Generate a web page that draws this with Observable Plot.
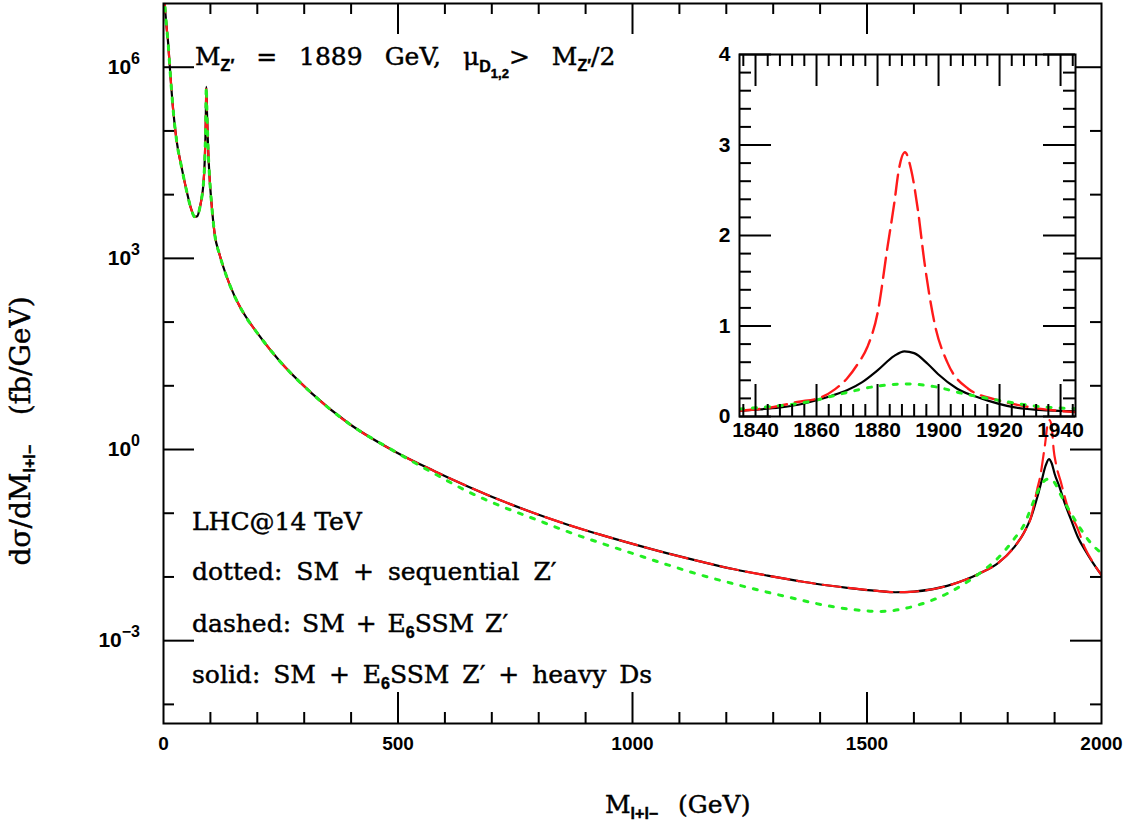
<!DOCTYPE html>
<html><head><meta charset="utf-8">
<script src="https://cdn.jsdelivr.net/npm/d3@7"></script>
<script src="https://cdn.jsdelivr.net/npm/@observablehq/plot@0.6"></script>
<style>
body{margin:0;background:#fff;}
#wrap{position:relative;width:1126px;height:830px;overflow:hidden;}
#wrap svg{position:absolute;left:0;top:0;}
</style></head><body><div id="wrap"></div>
<script>
// ---------- data ----------
// shared low-mass part (all three curves coincide)
const lowMass = [2, 2.8, 6, 10, 13.5, 20.6, 27.7, 38.3, 49, 59.6, 66.7, 72, 77.3, 81, 84.5, 88, 90, 91.2, 92.5, 95, 98, 102, 109, 120, 131, 152, 163, 209, 244, 315, 393, 493];
const lowXsec = [1.4e7, 1.0e7, 4.8e6, 2.34e6, 1.0e6, 2.14e5, 7.24e4, 2.75e4, 1.17e4, 5.75e3, 4.47e3, 4.57e3, 6.17e3, 8.5e3, 1.32e4, 3.55e4, 1.26e5, 4.9e5, 2.24e5, 5.6e4, 2.0e4, 7.9e3, 2.45e3, 1.12e3, 617, 251, 174, 55, 26.3, 7.76, 2.63, 0.933];
// E6SSM continuum (solid and dashed coincide)
const e6Mass = [578, 649, 720, 791, 862, 933, 1004, 1075, 1146, 1217, 1288, 1352, 1387, 1458, 1522, 1560, 1600, 1671, 1742, 1780, 1813, 1835, 1849];
const e6Xsec = [0.457, 0.263, 0.158, 0.10, 0.0661, 0.0457, 0.0324, 0.0234, 0.0174, 0.0132, 0.0105, 0.0087, 0.0079, 0.00676, 0.00603, 0.00575, 0.00589, 0.00724, 0.0115, 0.0166, 0.0288, 0.050, 0.083];
// solid: SM + E6SSM Z' + heavy Ds, resonance region
const solidPeakMass = [1863, 1872, 1881, 1888, 1894, 1900, 1910, 1922, 1935, 1950, 1965, 1980, 2000];
const solidPeakXsec = [0.178, 0.316, 0.562, 0.708, 0.603, 0.417, 0.263, 0.141, 0.0794, 0.0417, 0.0263, 0.0174, 0.0107];
// dashed: SM + E6SSM Z', resonance region
const dashedPeakMass = [1863, 1870, 1876, 1880, 1884, 1889, 1894, 1898, 1903, 1913, 1930, 1948, 1965, 1980, 2000];
const dashedPeakXsec = [0.24, 0.40, 0.79, 1.26, 2.24, 2.9, 2.24, 1.0, 0.59, 0.316, 0.112, 0.060, 0.0282, 0.0178, 0.0107];
// dotted: SM + sequential Z'
const seqMass = [578, 649, 720, 791, 862, 933, 1004, 1075, 1146, 1217, 1288, 1352, 1387, 1458, 1529, 1600, 1671, 1742, 1780, 1813, 1835, 1856, 1870, 1880, 1889, 1898, 1915, 1934, 1955, 1972, 2000];
const seqXsec = [0.417, 0.219, 0.129, 0.0813, 0.0513, 0.0339, 0.0229, 0.0155, 0.0107, 0.00776, 0.00575, 0.00447, 0.00389, 0.00316, 0.00288, 0.00347, 0.0055, 0.0117, 0.020, 0.0389, 0.066, 0.158, 0.269, 0.331, 0.347, 0.316, 0.182, 0.102, 0.0575, 0.038, 0.0234];

// inset (linear scale)
const insetSolidMass = [1834.75, 1840, 1848, 1854, 1860, 1865, 1870, 1875, 1880, 1885.5, 1888.8, 1892, 1896.5, 1899.8, 1906, 1914, 1925, 1936, 1944.9];
const insetSolidXsec = [0.062, 0.075, 0.10, 0.13, 0.18, 0.23, 0.29, 0.38, 0.51, 0.67, 0.72, 0.70, 0.58, 0.47, 0.31, 0.20, 0.10, 0.067, 0.056];
const insetDashedMass = [1834.75, 1845, 1853.7, 1861.4, 1866, 1870, 1873.5, 1876.7, 1880, 1883.3, 1885.5, 1887, 1889, 1891, 1893.2, 1895.4, 1898.7, 1903, 1909.6, 1919.5, 1930.5, 1944.9];
const insetDashedXsec = [0.062, 0.10, 0.16, 0.21, 0.30, 0.42, 0.58, 0.77, 1.14, 1.88, 2.36, 2.73, 2.92, 2.73, 2.29, 1.70, 1.03, 0.59, 0.31, 0.18, 0.10, 0.048];
const insetDottedMass = [1834.75, 1845, 1857, 1868, 1879, 1889, 1898.7, 1908.5, 1919.5, 1930.5, 1944.9];
const insetDottedXsec = [0.083, 0.11, 0.16, 0.25, 0.33, 0.36, 0.33, 0.25, 0.18, 0.12, 0.086];

// ticks
const mainXLabels = [0, 500, 1000, 1500, 2000];
const mainXMajor = [500, 1000, 1500];
const mainXMinor = [100, 200, 300, 400, 600, 700, 800, 900, 1100, 1200, 1300, 1400, 1600, 1700, 1800, 1900];
const mainYMajorExp = [6, 3, 0, -3];
const mainYMinorExp = [5, 4, 2, 1, -1, -2, -4];
const insetXMajor = [1840, 1860, 1880, 1900, 1920, 1940];
const insetXMinor = d3.range(1836, 1945, 4).filter(v => (v - 1840) % 20 !== 0);
const insetYMajor = [0, 1, 2, 3, 4];
const insetYMinor = d3.range(0.2, 4, 0.2).filter(v => Math.abs(v - Math.round(v)) > 1e-6);

// ---------- layout ----------
const W = 1126, H = 830;
const mainM = {left: 163, right: 25, top: 3, bottom: 107};
const mainFH = H - mainM.top - mainM.bottom, mainFW = W - mainM.left - mainM.right;
const insM = {left: 739, right: 51, top: 54, bottom: 414};
const insFH = H - insM.top - insM.bottom, insFW = W - insM.left - insM.right;
const MAJ = 31, MIN = 11, IMAJ = 32, IMIN = 12;

const RED = "#ff1a1a", GREEN = "#22ee22";
const serif = "'DejaVu Serif', serif";
const sans = "'Liberation Sans', Arial, sans-serif";

const zip = (xs, ys) => xs.map((m, i) => ({m, v: ys[i]}));
const solidData = [...zip(lowMass, lowXsec), ...zip(e6Mass, e6Xsec), ...zip(solidPeakMass, solidPeakXsec)];
const dashedData = [...zip(lowMass, lowXsec), ...zip(e6Mass, e6Xsec), ...zip(dashedPeakMass, dashedPeakXsec)];
const dottedData = [...zip(lowMass, lowXsec), ...zip(seqMass, seqXsec)];

const tickStyle = {stroke: "black", strokeWidth: 2};

const main = Plot.plot({
  width: W, height: H,
  marginLeft: mainM.left, marginRight: mainM.right, marginTop: mainM.top, marginBottom: mainM.bottom,
  style: {background: "transparent", overflow: "visible", fontFamily: sans},
  x: {domain: [0, 2000], axis: null},
  y: {type: "log", domain: [Math.pow(10, -4.3), 1e7], axis: null},
  marks: [
    Plot.line(solidData, {x: "m", y: "v", stroke: "black", strokeWidth: 2.2, curve: "monotone-x", clip: true}),
    Plot.line(dashedData, {x: "m", y: "v", stroke: RED, strokeWidth: 2.2, strokeDasharray: "18,8", curve: "monotone-x", clip: true}),
    Plot.line(dottedData, {x: "m", y: "v", stroke: GREEN, strokeWidth: 3, strokeDasharray: "4,9", curve: "monotone-x", clip: true}),
    Plot.tickX(mainXMajor, {x: d => d, insetTop: mainFH - MAJ, ...tickStyle}),
    Plot.tickX(mainXMajor, {x: d => d, insetBottom: mainFH - MAJ, ...tickStyle}),
    Plot.tickX(mainXMinor, {x: d => d, insetTop: mainFH - MIN, ...tickStyle}),
    Plot.tickX(mainXMinor, {x: d => d, insetBottom: mainFH - MIN, ...tickStyle}),
    Plot.tickY(mainYMajorExp, {y: d => Math.pow(10, d), insetRight: mainFW - MAJ, ...tickStyle}),
    Plot.tickY(mainYMajorExp, {y: d => Math.pow(10, d), insetLeft: mainFW - MAJ, ...tickStyle}),
    Plot.tickY(mainYMinorExp, {y: d => Math.pow(10, d), insetRight: mainFW - MIN, ...tickStyle}),
    Plot.tickY(mainYMinorExp, {y: d => Math.pow(10, d), insetLeft: mainFW - MIN, ...tickStyle}),
    Plot.frame({stroke: "black", strokeWidth: 2}),
    Plot.text(mainXLabels, {x: d => d, frameAnchor: "bottom", dy: 26, text: d => String(d), fontSize: 19, fontWeight: "bold", fill: "black"})
  ]
});

const inset = Plot.plot({
  width: W, height: H,
  marginLeft: insM.left, marginRight: insM.right, marginTop: insM.top, marginBottom: insM.bottom,
  style: {background: "transparent", overflow: "visible", fontFamily: sans},
  x: {domain: [1834.75, 1944.9], axis: null},
  y: {domain: [0, 4], axis: null},
  marks: [
    Plot.frame({fill: "white", stroke: "none"}),
    Plot.line(zip(insetSolidMass, insetSolidXsec), {x: "m", y: "v", stroke: "black", strokeWidth: 2.2, curve: "monotone-x", clip: true}),
    Plot.line(zip(insetDashedMass, insetDashedXsec), {x: "m", y: "v", stroke: RED, strokeWidth: 2.4, strokeDasharray: "20,8", curve: "monotone-x", clip: true}),
    Plot.line(zip(insetDottedMass, insetDottedXsec), {x: "m", y: "v", stroke: GREEN, strokeWidth: 3, strokeDasharray: "4,9", curve: "monotone-x", clip: true}),
    Plot.tickX(insetXMajor, {x: d => d, insetTop: insFH - IMAJ, ...tickStyle}),
    Plot.tickX(insetXMajor, {x: d => d, insetBottom: insFH - IMAJ, ...tickStyle}),
    Plot.tickX(insetXMinor, {x: d => d, insetTop: insFH - IMIN, ...tickStyle}),
    Plot.tickX(insetXMinor, {x: d => d, insetBottom: insFH - IMIN, ...tickStyle}),
    Plot.tickY(insetYMajor, {y: d => d, insetRight: insFW - IMAJ, ...tickStyle}),
    Plot.tickY(insetYMajor, {y: d => d, insetLeft: insFW - IMAJ, ...tickStyle}),
    Plot.tickY(insetYMinor, {y: d => d, insetRight: insFW - IMIN, ...tickStyle}),
    Plot.tickY(insetYMinor, {y: d => d, insetLeft: insFW - IMIN, ...tickStyle}),
    Plot.frame({stroke: "black", strokeWidth: 2}),
    Plot.text(insetXMajor, {x: d => d, frameAnchor: "bottom", dy: 20, text: d => String(d), fontSize: 21, fontWeight: "bold", fill: "black"}),
    Plot.text(insetYMajor, {y: d => d, frameAnchor: "left", dx: -9, textAnchor: "end", text: d => String(d), fontSize: 21, fontWeight: "bold", fill: "black"})
  ]
});

const wrap = document.getElementById("wrap");
wrap.appendChild(main);
wrap.appendChild(inset);

// ---------- rich text helpers ----------
function rich(svg, x, y, segs, {size = 25, family = serif, anchor = "start", transform = null, weight = "normal", wordSpacing = 0, thick = 0.45} = {}) {
  const t = d3.select(svg).append("text")
    .attr("font-family", family).attr("font-size", size).attr("font-weight", weight)
    .attr("text-anchor", anchor).attr("fill", "black")
    .attr("stroke", "black").attr("stroke-width", thick)
    .style("white-space", "pre").attr("word-spacing", wordSpacing);
  if (transform) t.attr("transform", transform); else t.attr("x", x).attr("y", y);
  let prev = 0;
  for (const s of segs) {
    const sh = s.shift || 0;
    const sp = t.append("tspan").attr("dy", sh - prev).text(s.t);
    if (s.size) sp.attr("font-size", s.size);
    if (s.weight) sp.attr("font-weight", s.weight);
    if (s.family) sp.attr("font-family", s.family);
    prev = sh;
  }
  return t;
}

// main y tick labels 10^n
const ys = main.scale("y");
for (const e of mainYMajorExp) {
  const py = ys.apply(Math.pow(10, e));
  rich(main, 140, py + 7, [{t: "10"}, {t: e < 0 ? "\u2212" + (-e) : String(e), size: 16, shift: -10}],
    {size: 21, family: sans, weight: "bold", anchor: "end", thick: 0});
}

const SUB = 16;
// title
rich(main, 195, 65, [
  {t: "M"}, {t: "Z\u2032", size: SUB, shift: 6, family: sans, weight: "bold"},
  {t: " = 1889 GeV, "}, {t: "\u03bc", family: serif},
  {t: "D", size: SUB, shift: 7, family: sans, weight: "bold"}, {t: "1,2", size: 13, shift: 13, family: sans, weight: "bold"},
  {t: "> M"}, {t: "Z\u2032", size: SUB, shift: 6, family: sans, weight: "bold"}, {t: "/2"}
], {wordSpacing: 14});

// legend text lines
rich(main, 192, 530, [{t: "LHC@14 TeV"}], {wordSpacing: 0});
rich(main, 192, 580, [{t: "dotted: SM + sequential Z\u2032"}], {wordSpacing: 6});
rich(main, 192, 632, [{t: "dashed: SM + E"}, {t: "6", size: SUB, shift: 6, family: sans, weight: "bold"}, {t: "SSM Z\u2032"}], {wordSpacing: 3});
rich(main, 192, 683, [{t: "solid: SM + E"}, {t: "6", size: SUB, shift: 6, family: sans, weight: "bold"}, {t: "SSM Z\u2032 + heavy Ds"}], {wordSpacing: 5});

// axis titles
rich(main, 605, 813, [{t: "M"}, {t: "l+l\u2212", size: SUB, shift: 6, family: sans, weight: "bold"}, {t: "  (GeV)"}], {wordSpacing: 2});
rich(main, 0, 0, [{t: "d\u03c3/dM"}, {t: "l+l\u2212", size: SUB, shift: 5, family: sans, weight: "bold"}, {t: "  (fb/GeV)"}],
  {anchor: "middle", transform: "translate(30,431) rotate(-90)", wordSpacing: 6, size: 28});
</script></body></html>
